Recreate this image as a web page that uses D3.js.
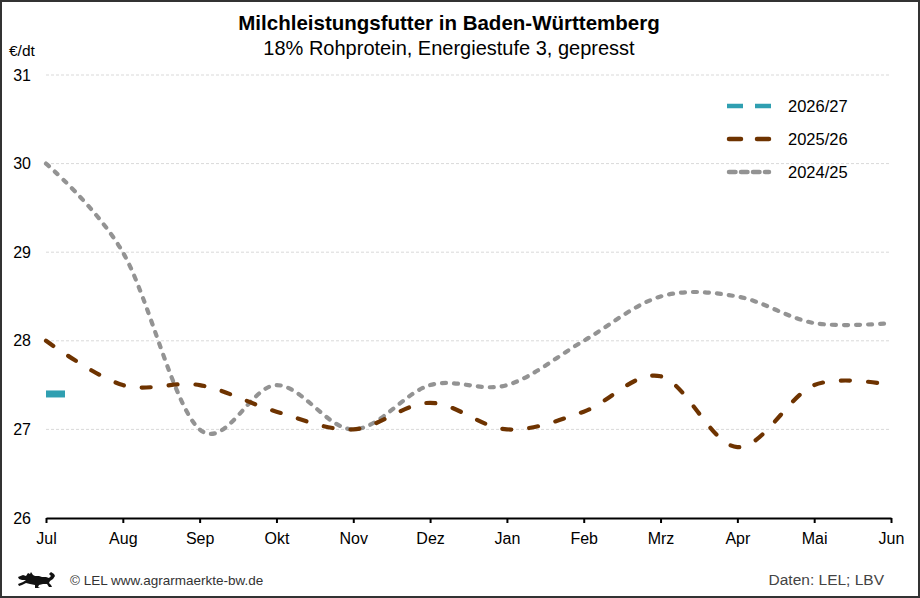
<!DOCTYPE html>
<html>
<head>
<meta charset="utf-8">
<script src="https://cdn.jsdelivr.net/npm/d3@7"></script>
<style>
  html, body { margin: 0; padding: 0; background: #fff; }
  svg { display: block; font-family: "Liberation Sans", Arial, sans-serif; }
</style>
</head>
<body>
<svg id="chart" width="920" height="598"></svg>
<script>
// Monate des Wirtschaftsjahres (Juli bis Juni)
const months = ["Jul", "Aug", "Sep", "Okt", "Nov", "Dez", "Jan", "Feb", "Mrz", "Apr", "Mai", "Jun"];

// Preise in €/dt
const values2024 = [30.0, 29.0, 27.0, 27.5, 27.0, 27.5, 27.5, 28.0, 28.5, 28.5, 28.2, 28.2];
const values2025 = [28.0, 27.5, 27.5, 27.2, 27.0, 27.3, 27.0, 27.2, 27.6, 26.8, 27.5, 27.5];
const values2026 = [27.4];

const yTicks = [26, 27, 28, 29, 30, 31];

const series = [
  { name: "2026/27", values: values2026, color: "#2f9fb1", dash: "16 12", cap: "butt" },
  { name: "2025/26", values: values2025, color: "#6e3300", dash: "9 18", cap: "round" },
  { name: "2024/25", values: values2024, color: "#939393", dash: "4 8", cap: "round" }
];

const svg = d3.select("#chart");
const width = 920, height = 598;
const margin = { top: 75, right: 29, bottom: 80, left: 46 };

// Rahmen
svg.append("rect")
  .attr("x", 1).attr("y", 1)
  .attr("width", width - 2).attr("height", height - 2)
  .attr("fill", "#fff")
  .attr("stroke", "#333")
  .attr("stroke-width", 2);

const x = d3.scalePoint()
  .domain(months)
  .range([margin.left, width - margin.right]);

const y = d3.scaleLinear()
  .domain([26, 31])
  .range([height - margin.bottom, margin.top]);

// Titel
svg.append("text")
  .attr("x", 449).attr("y", 30)
  .attr("text-anchor", "middle")
  .attr("font-size", 20.5)
  .attr("font-weight", "bold")
  .text("Milchleistungsfutter in Baden-Württemberg");

svg.append("text")
  .attr("x", 449).attr("y", 55)
  .attr("text-anchor", "middle")
  .attr("font-size", 20)
  .text("18% Rohprotein, Energiestufe 3, gepresst");

svg.append("text")
  .attr("x", 9).attr("y", 56)
  .attr("font-size", 15.5)
  .text("€/dt");

// Gitternetz
svg.append("g")
  .selectAll("line")
  .data(yTicks.filter(d => d > 26))
  .join("line")
  .attr("x1", margin.left).attr("x2", width - margin.right)
  .attr("y1", d => y(d)).attr("y2", d => y(d))
  .attr("stroke", "#d9d9d9")
  .attr("stroke-width", 1)
  .attr("stroke-dasharray", "3 2");

// y-Achse (nur Beschriftung)
const yAxis = svg.append("g")
  .attr("transform", `translate(${margin.left},0)`)
  .call(d3.axisLeft(y).tickValues(yTicks).tickFormat(d3.format("d")).tickSize(0).tickPadding(15));
yAxis.select(".domain").remove();
yAxis.selectAll("text")
  .attr("font-size", 16)
  .attr("font-family", "Liberation Sans, Arial, sans-serif")
  .attr("fill", "#000");

// x-Achse
const xAxis = svg.append("g")
  .attr("transform", `translate(0,${y(26)})`)
  .call(d3.axisBottom(x).tickSize(5).tickSizeOuter(0).tickPadding(10));
xAxis.select(".domain")
  .attr("stroke", "#000")
  .attr("stroke-width", 2.2);
xAxis.selectAll(".tick line")
  .attr("stroke", "#000")
  .attr("stroke-width", 2);
xAxis.selectAll("text")
  .attr("font-size", 16)
  .attr("font-family", "Liberation Sans, Arial, sans-serif")
  .attr("fill", "#000");

// Linien
const line = d3.line()
  .x((d, i) => x(months[i]))
  .y(d => y(d))
  .curve(d3.curveCardinal.tension(0));

const lines = svg.append("g");
series.slice().reverse().forEach(s => {
  if (s.values.length > 1) {
    lines.append("path")
      .datum(s.values)
      .attr("d", line)
      .attr("fill", "none")
      .attr("stroke", s.color)
      .attr("stroke-width", 4.2)
      .attr("stroke-dasharray", s.dash)
      .attr("stroke-linecap", s.cap);
  } else {
    // einzelner Wert als kurzer Strich
    lines.selectAll(null)
      .data(s.values)
      .join("rect")
      .attr("x", (d, i) => x(months[i]))
      .attr("y", d => y(d) - 3.5)
      .attr("width", 19)
      .attr("height", 7)
      .attr("fill", s.color);
  }
});

// Legende
const legend = svg.append("g");
series.forEach((s, i) => {
  const ly = 106 + i * 33;
  legend.append("line")
    .attr("x1", s.cap === "round" ? 729 : 727)
    .attr("x2", s.cap === "round" ? 769 : 771)
    .attr("y1", ly).attr("y2", ly)
    .attr("stroke", s.color)
    .attr("stroke-width", 4.5)
    .attr("stroke-linecap", s.cap)
    .attr("stroke-dasharray", i === 0 ? "16 12" : (i === 1 ? "12 16" : "6.5 5.5"));
  legend.append("text")
    .attr("x", 788).attr("y", ly + 6)
    .attr("font-size", 16.5)
    .text(s.name);
});

// Fußzeile: Löwe
svg.append("path")
  .attr("transform", "translate(18,572)")
  .attr("fill", "#111")
  .attr("d", "M0,5 L5,3 L8,4 L10,1 L12,2 L13,0 L15,3 L17,4 L21,4 L24,5 L28,5 L31,6 L33,4 L31,2 L33,0 L36,2 L37,4 L35,7 L32,9 L31,11 L33,13 L34,15 L31,15 L29,12 L25,12 L21,13 L20,15 L22,16 L17,16 L17,13 L12,12 L8,11 L4,13 L1,14 L0,12 L5,10 L8,8 L4,8 L1,7 Z");

svg.append("text")
  .attr("x", 70).attr("y", 585)
  .attr("font-size", 13.5)
  .attr("fill", "#333")
  .text("© LEL www.agrarmaerkte-bw.de");

svg.append("text")
  .attr("x", 884).attr("y", 585)
  .attr("text-anchor", "end")
  .attr("font-size", 15.5)
  .attr("fill", "#444")
  .text("Daten: LEL; LBV");
</script>
</body>
</html>
